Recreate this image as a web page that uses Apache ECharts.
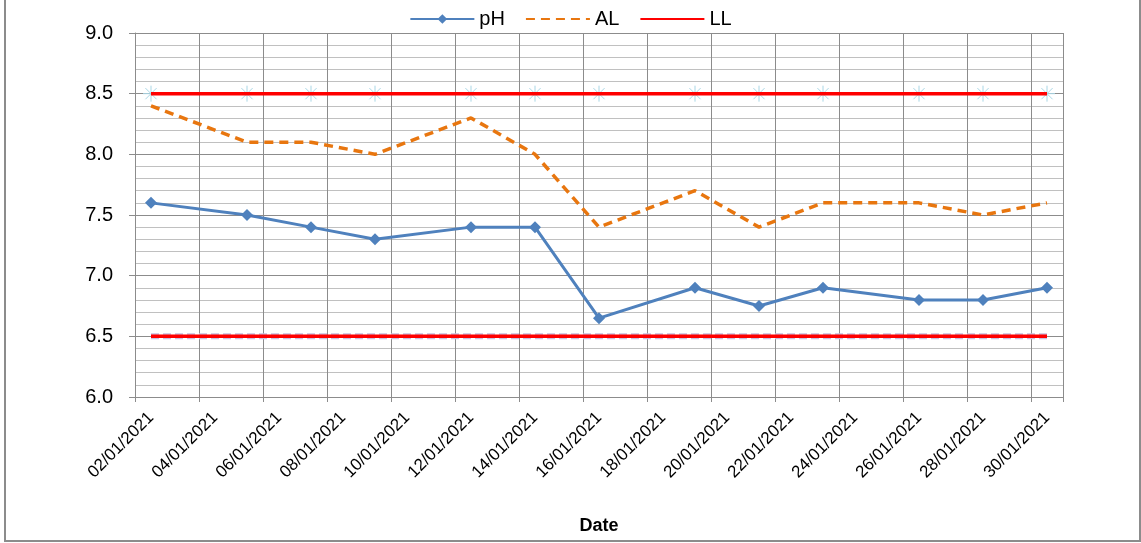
<!DOCTYPE html>
<html>
<head>
<meta charset="utf-8">
<script src="https://cdn.jsdelivr.net/npm/echarts@6/dist/echarts.min.js"></script>
<style>
  html, body { margin: 0; padding: 0; background: #fff; }
  #chart { width: 1141px; height: 543px; }
</style>
</head>
<body>
<div id="chart"></div>
<script>
// measurement dates and readings
var dates = ['02/01/2021', '05/01/2021', '07/01/2021', '09/01/2021', '12/01/2021', '14/01/2021', '16/01/2021',
    '19/01/2021', '21/01/2021', '23/01/2021', '26/01/2021', '28/01/2021', '30/01/2021']
var ph = [7.6, 7.5, 7.4, 7.3, 7.4, 7.4, 6.65, 6.9, 6.75, 6.9, 6.8, 6.8, 6.9]
var al = [8.4, 8.1, 8.1, 8.0, 8.3, 8.0, 7.4, 7.7, 7.4, 7.6, 7.6, 7.5, 7.6]
var ll_high = 8.5
var ll_low = 6.5

// every day on the axis, 02/01 .. 30/01
var days = []
for (var d = 2; d <= 30; d++) {
    days.push((d < 10 ? '0' + d : '' + d) + '/01/2021')
}

function pairs(vals) {
    return dates.map(function(dt, i) { return [dt, vals[i]] })
}
function flat(v) {
    return dates.map(function(dt) { return [dt, v] })
}

var font = 'Liberation Sans'
var asterisk = 'path://M0,-10L0,10M-10,0L10,0M-7,-7L7,7M-7,7L7,-7'
var noMark = { color: 'rgba(0,0,0,0)', borderColor: 'rgba(0,0,0,0)', borderWidth: 0 }

var chart = echarts.init(document.getElementById('chart'))

var option = {
    animation: false,
    textStyle: { fontFamily: font },
    graphic: [{
        type: 'rect',
        shape: { x: 5, y: -5, width: 1135, height: 546 },
        style: { fill: 'none', stroke: '#8c8c8c', lineWidth: 2 },
        silent: true
    }],
    legend: {
        data: ['pH', { name: 'AL', itemStyle: noMark }, { name: 'LL', itemStyle: noMark }],
        top: 4,
        left: 'center',
        itemWidth: 64,
        itemHeight: 12,
        itemGap: 20,
        textStyle: { fontFamily: font, fontSize: 20, color: '#000' }
    },
    grid: { left: 135, right: 78, top: 33, bottom: 146 },
    xAxis: {
        type: 'category',
        data: days,
        boundaryGap: true,
        name: 'Date',
        nameLocation: 'middle',
        nameGap: 120,
        nameTextStyle: { fontFamily: font, fontSize: 18, fontWeight: 'bold', color: '#000' },
        axisLine: { lineStyle: { color: '#8c8c8c', width: 1 } },
        axisTick: { show: true, interval: 1, length: 5, lineStyle: { color: '#8c8c8c' } },
        axisLabel: { interval: 1, rotate: 45, margin: 18, fontSize: 17, color: '#000', fontFamily: font },
        splitLine: { show: true, interval: 1, lineStyle: { color: '#8c8c8c', width: 1 } }
    },
    yAxis: {
        type: 'value',
        min: 6,
        max: 9,
        interval: 0.5,
        axisLine: { show: true, lineStyle: { color: '#8c8c8c', width: 1 } },
        axisTick: { show: true, length: 6, lineStyle: { color: '#8c8c8c' } },
        axisLabel: {
            margin: 22, fontSize: 20, color: '#000', fontFamily: font,
            formatter: function(v) { return v.toFixed(1) }
        },
        splitLine: { show: true, lineStyle: { color: '#8c8c8c', width: 1 } },
        minorTick: { show: false, splitNumber: 5 },
        minorSplitLine: { show: true, lineStyle: { color: '#c0c0c0', width: 1 } }
    },
    series: [
        {
            name: 'UL marks',
            type: 'line',
            data: flat(ll_high),
            lineStyle: { width: 0, opacity: 0 },
            symbol: asterisk,
            symbolSize: 16,
            itemStyle: { color: 'none', borderColor: '#a9d6e5', borderWidth: 1 },
            z: 1,
            silent: true
        },
        {
            name: 'LL shadow',
            type: 'line',
            data: flat(ll_low),
            showSymbol: false,
            lineStyle: { color: '#c8bfe0', width: 6, type: [8, 4] },
            z: 1,
            silent: true
        },
        {
            name: 'LL',
            type: 'line',
            data: flat(ll_high),
            symbol: 'none',
            itemStyle: { color: '#ff0000' },
            lineStyle: { color: '#ff0000', width: 3.5 },
            z: 2
        },
        {
            name: 'LL',
            type: 'line',
            data: flat(ll_low),
            symbol: 'none',
            itemStyle: { color: '#ff0000' },
            lineStyle: { color: '#ff0000', width: 3.5 },
            z: 2
        },
        {
            name: 'AL',
            type: 'line',
            data: pairs(al),
            symbol: 'none',
            itemStyle: { color: '#e8760f' },
            lineStyle: { color: '#e8760f', width: 3.5, type: [9, 6] },
            z: 3
        },
        {
            name: 'pH',
            type: 'line',
            data: pairs(ph),
            symbol: 'diamond',
            symbolSize: 12,
            itemStyle: { color: '#4f81bd' },
            lineStyle: { color: '#4f81bd', width: 3 },
            z: 4
        }
    ]
}

chart.setOption(option)
</script>
</body>
</html>
